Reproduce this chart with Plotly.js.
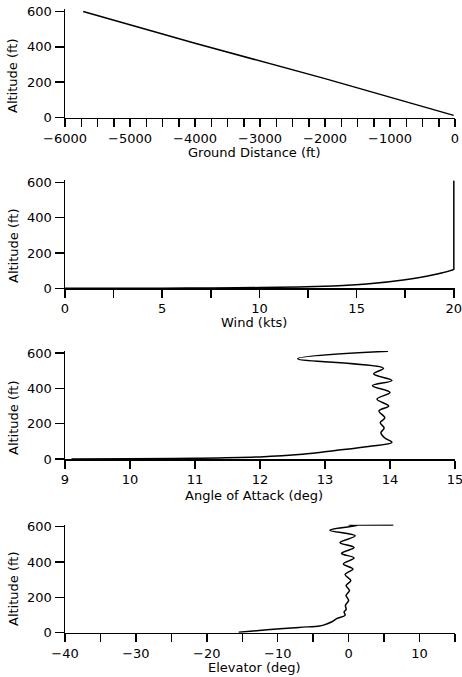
<!DOCTYPE html>
<html>
<head>
<meta charset="utf-8">
<script src="https://cdn.plot.ly/plotly-3.0.1.min.js"></script>
<style>html,body{margin:0;padding:0;background:#fff;}#chart{width:462px;height:677px;}</style>
</head>
<body>
<div id="chart"></div>
<script>
// Panel 1: altitude vs ground distance
const groundDist = [-5720, -4000, -2000, -1000, -20];
const groundAlt  = [600, 420, 220, 115, 12];

// Panel 2: altitude vs wind
const windKts = [0, 2, 5, 7.6, 10, 12, 13.8, 15.5, 17.4, 18.9, 20, 20, 20];
const windAlt = [0, 0.2, 0.8, 2, 4, 7.5, 13, 24, 47, 75, 108, 120, 610];

// Panel 3: altitude vs angle of attack
const aoaDeg = [13.97, 12.58, 13.9, 13.75, 14.03, 13.73, 14.0, 13.8, 13.98, 13.83, 13.92, 13.85, 13.91, 13.86, 13.92, 14.03, 13.67, 13.16, 12.65, 12.0, 11.0, 10.0, 9.1];
const aoaAlt = [610, 568, 513, 482, 444, 415, 377, 339, 300, 272, 233, 205, 176, 148, 119, 94, 71, 48, 27, 12, 4, 1.5, 0];

// Panel 4: altitude vs elevator
const elevDeg = [6.3, 0.0, 1.2, -2.64, 0.93, -1.21, 0.76, -1.0, 0.76, -0.74, 0.6, -0.5, 0.31, -0.36, 0.12, -0.36, 0.0, -0.45, -0.36, -0.64, -0.5, -1.64, -2.36, -3.55, -4.1, -7.0, -11.5, -15.5];
const elevAlt = [610, 609, 606, 580, 548, 510, 482, 449, 423, 389, 361, 329, 295, 267, 239, 211, 183, 155, 131, 118, 99, 81, 62, 43, 38, 30, 16, 3];

// Axis tick labels
const altTicks = [0, 200, 400, 600];
const distTicks = [-6000, -5000, -4000, -3000, -2000, -1000, 0];
const windTicks = [0, 5, 10, 15, 20];
const aoaTicks = [9, 10, 11, 12, 13, 14, 15];
const elevTicks = [-40, -30, -20, -10, 0, 10];

const xTitles = ['Ground Distance (ft)', 'Wind (kts)', 'Angle of Attack (deg)', 'Elevator (deg)'];
const yTitle = 'Altitude (ft)';

const FONT = 'DejaVu Sans, Liberation Sans, sans-serif';
const H = 677;
const frac = px => (H - px) / H;

// pixel bottoms (y=0) of each panel; 612 ft shown above
const bottoms = [117.5, 288.3, 459, 632.7];
const pxPer612 = 106 * 612 / 600;

function traceOf(x, y, n, shape, smoothing) {
  return {
    x: x, y: y, type: 'scatter', mode: 'lines',
    line: {color: 'black', width: 1.5, shape: shape, smoothing: smoothing},
    xaxis: n === 1 ? 'x' : 'x' + n, yaxis: n === 1 ? 'y' : 'y' + n,
    hoverinfo: 'skip', showlegend: false
  };
}

function xAxis(n, range, vals, minorStep) {
  const ax = {
    domain: [0, 1], range: range, anchor: n === 1 ? 'y' : 'y' + n,
    tickmode: 'array', tickvals: vals,
    ticks: 'outside', ticklen: 8, tickwidth: 1.5, tickcolor: 'black',
    ticklabeloverflow: 'allow',
    showline: true, linecolor: 'black', linewidth: 1.5,
    showgrid: false, zeroline: false,
    tickfont: {family: FONT, size: 13, color: 'black'}
  };
  if (minorStep) {
    ax.minor = {dtick: minorStep, tick0: 0, ticks: 'outside', ticklen: 8, tickwidth: 1.5, tickcolor: 'black', showgrid: false};
  }
  return ax;
}

function yAxis(n) {
  const b = bottoms[n - 1];
  return {
    domain: [frac(b), frac(b - pxPer612)], range: [0, 612],
    anchor: n === 1 ? 'x' : 'x' + n,
    tickmode: 'array', tickvals: altTicks,
    ticks: 'outside', ticklen: 9, tickwidth: 1.5, tickcolor: 'black',
    ticklabeloverflow: 'allow',
    showline: true, linecolor: 'black', linewidth: 1.5,
    showgrid: false, zeroline: false,
    tickfont: {family: FONT, size: 13, color: 'black'}
  };
}

const xTitlePx = [152, 323, 495, 667];
const yTitlePx = [76, 246, 418, 589];
const annotations = [];
for (let i = 0; i < 4; i++) {
  annotations.push({
    text: xTitles[i], xref: 'paper', yref: 'paper',
    x: (254 - 65) / 390, y: frac(xTitlePx[i]), xanchor: 'center', yanchor: 'middle',
    showarrow: false, font: {family: FONT, size: 13, color: 'black'}
  });
  annotations.push({
    text: yTitle, xref: 'paper', yref: 'paper', textangle: -90,
    x: (13 - 65) / 390, y: frac(yTitlePx[i]), xanchor: 'center', yanchor: 'middle',
    showarrow: false, font: {family: FONT, size: 13, color: 'black'}
  });
}

const data = [
  traceOf(groundDist, groundAlt, 1, 'linear', 0),
  traceOf(windKts, windAlt, 2, 'spline', 0.5),
  traceOf(aoaDeg, aoaAlt, 3, 'spline', 1),
  traceOf(elevDeg, elevAlt, 4, 'spline', 1)
];

const layout = {
  width: 462, height: 677,
  margin: {l: 65, r: 7, t: 0, b: 0},
  paper_bgcolor: 'white', plot_bgcolor: 'white',
  showlegend: false,
  xaxis: xAxis(1, [-6000, 0], distTicks, 250),
  xaxis2: xAxis(2, [0, 20.06], windTicks, 2.5),
  xaxis3: xAxis(3, [9, 15], aoaTicks, null),
  xaxis4: xAxis(4, [-40, 15], elevTicks, 5),
  yaxis: yAxis(1), yaxis2: yAxis(2), yaxis3: yAxis(3), yaxis4: yAxis(4),
  annotations: annotations
};

Plotly.newPlot('chart', data, layout, {staticPlot: true, displayModeBar: false});
</script>
</body>
</html>
